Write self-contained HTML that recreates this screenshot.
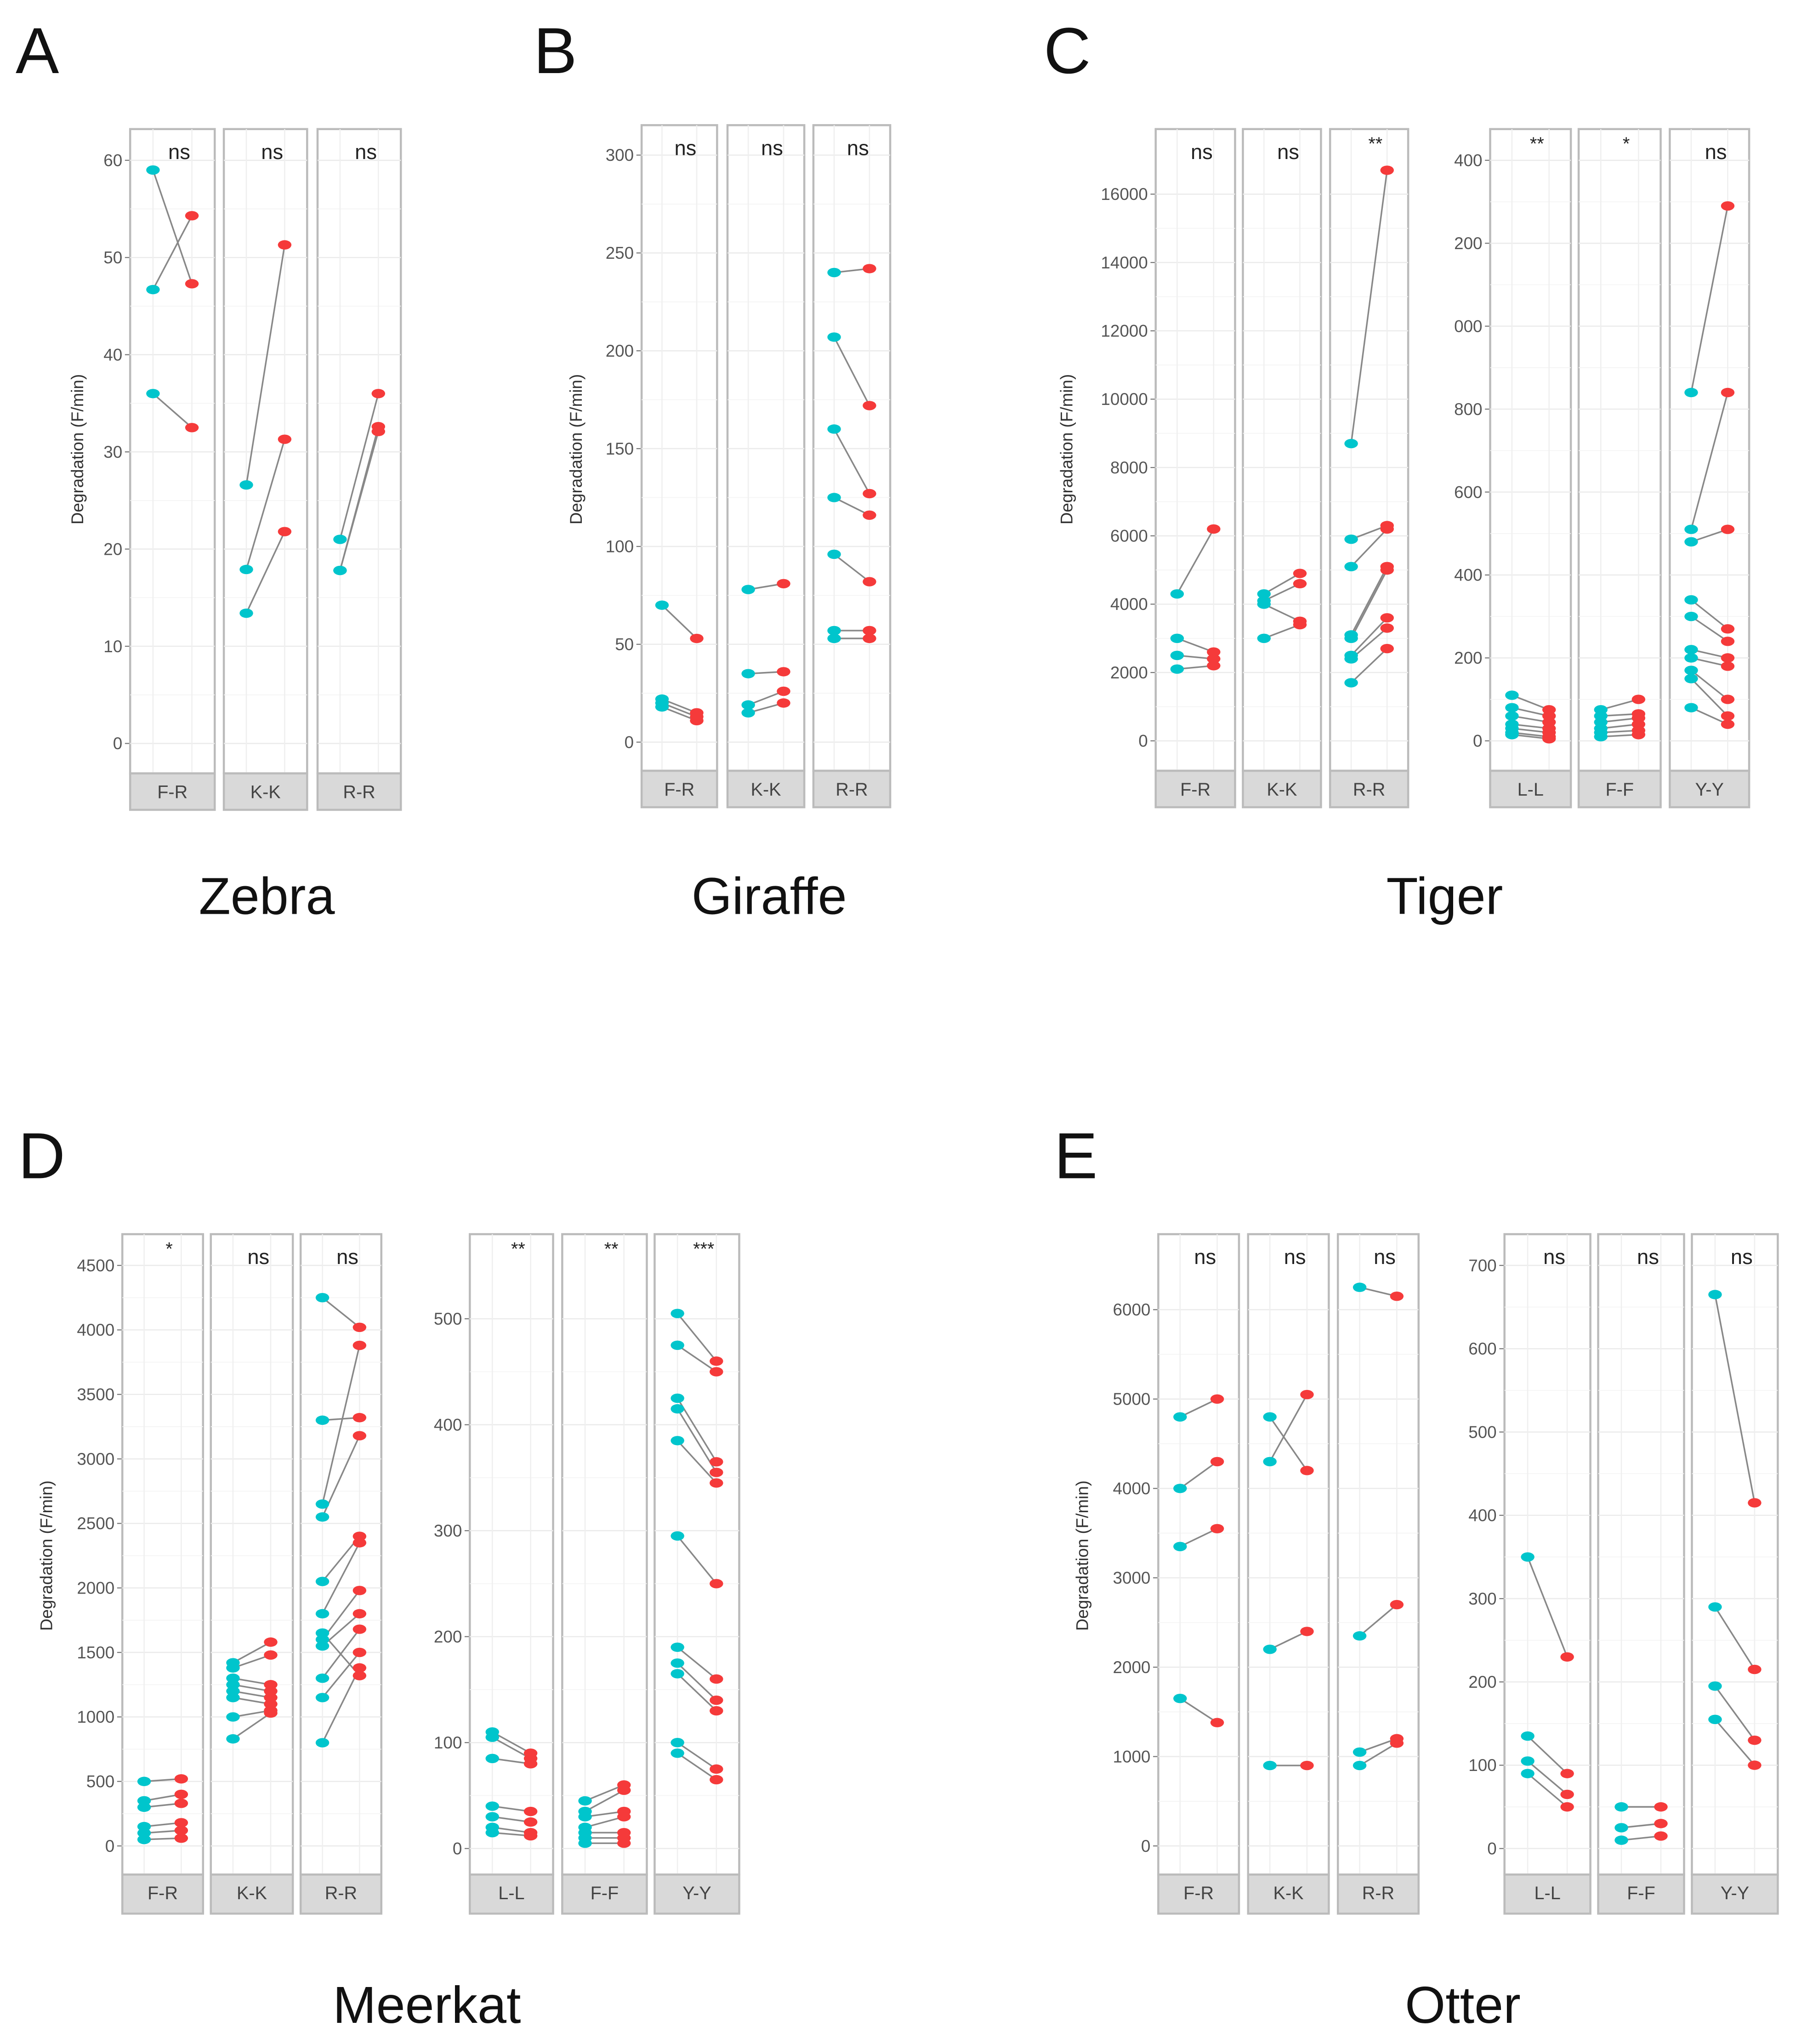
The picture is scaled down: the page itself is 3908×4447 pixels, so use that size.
<!DOCTYPE html>
<html><head><meta charset="utf-8"><style>
html,body{margin:0;padding:0;background:#fff}
svg{display:block}
text{font-family:"Liberation Sans",Arial,sans-serif}
</style></head><body>
<svg id="fig" width="3908" height="4447" viewBox="0 0 1380 1570" xmlns="http://www.w3.org/2000/svg">
<g id="root"></g>
</svg>
<script>
// ---------- DATA ----------
// Zebra
const zebraFacets = ["F-R","K-K","R-R"];
const zebraSig = ["ns","ns","ns"];
const zebraTicks = [0,10,20,30,40,50,60];
const zebraBefore = [[59,46.7,36],[26.6,17.9,13.4],[21,17.8,17.8]];
const zebraAfter  = [[47.3,54.3,32.5],[51.3,31.3,21.8],[36,32.6,32.1]];
// Giraffe
const giraffeFacets = ["F-R","K-K","R-R"];
const giraffeSig = ["ns","ns","ns"];
const giraffeTicks = [0,50,100,150,200,250,300];
const giraffeBefore = [[70,22,20,18],[78,35,19,15],[240,207,160,125,96,57,53]];
const giraffeAfter  = [[53,15,13,11],[81,36,26,20],[242,172,127,116,82,57,53]];
// Tiger left
const tigerLFacets = ["F-R","K-K","R-R"];
const tigerLSig = ["ns","ns","**"];
const tigerLTicks = [0,2000,4000,6000,8000,10000,12000,14000,16000];
const tigerLBefore = [[4300,3000,2500,2100],[4300,4100,4000,3000],[8700,5900,5100,3100,3000,2500,1700,2400]];
const tigerLAfter  = [[6200,2600,2400,2200],[4900,4600,3500,3400],[16700,6300,6200,5100,5000,3600,2700,3300]];
// Tiger right
const tigerRFacets = ["L-L","F-F","Y-Y"];
const tigerRSig = ["**","*","ns"];
const tigerRTicks = [0,200,400,600,800,1000,1200,1400];
const tigerRTickLabels = ["0","200","400","600","800","000","200","400"];
const tigerRBefore = [[110,80,60,40,30,20,15],[75,60,45,30,20,10],[840,510,480,340,300,220,200,170,150,80]];
const tigerRAfter  = [[75,60,45,30,20,10,5],[100,65,55,40,25,15],[1290,840,510,270,240,200,180,100,60,40]];
// Meerkat left
const meerLFacets = ["F-R","K-K","R-R"];
const meerLSig = ["*","ns","ns"];
const meerLTicks = [0,500,1000,1500,2000,2500,3000,3500,4000,4500];
const meerLBefore = [[500,350,300,150,100,50],[1420,1380,1300,1250,1200,1150,1000,830],[4250,3300,2650,2550,2050,1800,1600,1550,1300,1150,800,1650]];
const meerLAfter  = [[520,400,330,180,120,60],[1580,1480,1250,1200,1150,1100,1050,1030],[4020,3320,3880,3180,2400,2350,1980,1800,1680,1500,1380,1320]];
// Meerkat right
const meerRFacets = ["L-L","F-F","Y-Y"];
const meerRSig = ["**","**","***"];
const meerRTicks = [0,100,200,300,400,500];
const meerRBefore = [[110,105,85,40,30,20,15],[45,35,30,20,15,10,5],[505,475,425,415,385,295,190,175,165,100,90]];
const meerRAfter  = [[90,85,80,35,25,15,12],[60,55,35,30,15,10,5],[460,450,365,355,345,250,160,140,130,75,65]];
// Otter left
const otterLFacets = ["F-R","K-K","R-R"];
const otterLSig = ["ns","ns","ns"];
const otterLTicks = [0,1000,2000,3000,4000,5000,6000];
const otterLBefore = [[4800,4000,3350,1650],[4800,4300,2200,900],[6250,2350,1050,900]];
const otterLAfter  = [[5000,4300,3550,1380],[4200,5050,2400,900],[6150,2700,1200,1150]];
// Otter right
const otterRFacets = ["L-L","F-F","Y-Y"];
const otterRSig = ["ns","ns","ns"];
const otterRTicks = [0,100,200,300,400,500,600,700];
const otterRBefore = [[350,135,105,90],[50,25,10],[665,290,195,155]];
const otterRAfter  = [[230,90,65,50],[50,30,15],[415,215,130,100]];

// ---------- DRAWING ----------
const NS="http://www.w3.org/2000/svg";
const root=document.getElementById('root');
function mk(tag,attrs,parent){const e=document.createElementNS(NS,tag);for(const k in attrs)e.setAttribute(k,attrs[k]);(parent||root).appendChild(e);return e;}
const CY="#00c5cc", RD="#f53a3a";

function group(cfg){
  const g=mk('g',{});
  
  
  const v0=cfg.ticks[0], v1=cfg.ticks[cfg.ticks.length-1];
  const yS=v=>cfg.y0+(v-v0)/(v1-v0)*(cfg.y1-cfg.y0);
  cfg.ticks.forEach((t,i)=>{
    const tx=mk('text',{x:cfg.axisX-6,y:yS(t)+4.5,'text-anchor':'end','font-size':13,fill:'#555'},g);
    tx.textContent=cfg.labels?cfg.labels[i]:String(t);
    
    
    mk('line',{x1:cfg.axisX-4,x2:cfg.axisX,y1:yS(t),y2:yS(t),stroke:'#777','stroke-width':0.8},g);
  });
  cfg.facets.forEach((f,i)=>{
    const [L,R]=cfg.fx[i], w=R-L;
    const fg=mk('g',{},g);
    
    
    mk('rect',{x:L,y:cfg.top,width:w,height:cfg.stripTop-cfg.top,fill:'#fff',stroke:'#bbb','stroke-width':1.6},fg);
    const cx=L+0.27*w, rx=L+0.73*w;
    cfg.ticks.forEach((t,k)=>{
      mk('line',{x1:L,x2:R,y1:yS(t),y2:yS(t),stroke:'#ebebeb','stroke-width':0.9},fg);
      if(k<cfg.ticks.length-1){const m=(yS(t)+yS(cfg.ticks[k+1]))/2;mk('line',{x1:L,x2:R,y1:m,y2:m,stroke:'#f4f4f4','stroke-width':0.6},fg);}
    });
    [cx,rx].forEach(x=>mk('line',{x1:x,x2:x,y1:cfg.top,y2:cfg.stripTop,stroke:'#efefef','stroke-width':0.9},fg));
    const sr=mk('rect',{x:L,y:cfg.stripTop,width:w,height:cfg.stripBot-cfg.stripTop,fill:'#d9d9d9',stroke:'#bbb','stroke-width':1.6},fg);
    
    
    const st=mk('text',{x:(L+R)/2,y:cfg.stripTop+19,'text-anchor':'middle','font-size':14,fill:'#444'},fg);
    st.textContent=f;
    
    
    const sg=mk('text',{x:L+w*0.58,y:cfg.top+(cfg.sig[i]==='ns'?23:16),'text-anchor':'middle','font-size':cfg.sig[i]==='ns'?16:14,fill:'#222'},fg);
    sg.textContent=cfg.sig[i];
    
    
    const b=cfg.before[i], a=cfg.after[i];
    for(let k=0;k<b.length;k++){
      const ln=mk('line',{x1:cx,y1:yS(b[k]),x2:rx,y2:yS(a[k]),stroke:'#888','stroke-width':1.2},fg);
      
      
    }
    for(let k=0;k<b.length;k++){
      const p1=mk('ellipse',{cx:cx,cy:yS(b[k]),rx:5.2,ry:3.6,fill:CY},fg);
      
      
      const p2=mk('ellipse',{cx:rx,cy:yS(a[k]),rx:5.2,ry:3.6,fill:RD},fg);
      
      
    }
  });
  if(cfg.ytitle){
    const yt=mk('text',{x:0,y:0,'text-anchor':'middle','font-size':13,fill:'#333',transform:`translate(${cfg.ytitle[0]},${cfg.ytitle[1]}) rotate(-90)`},g);
    yt.textContent='Degradation (F/min)';
    
    
  }
}

group({name:'zebra-chart',facets:zebraFacets,sig:zebraSig,ticks:zebraTicks,before:zebraBefore,after:zebraAfter,
  fx:[[100,165],[172,236],[244,308]],top:99,stripTop:594,stripBot:622,y0:571,y1:123,axisX:100,ytitle:[64,345]});
group({name:'giraffe-chart',facets:giraffeFacets,sig:giraffeSig,ticks:giraffeTicks,before:giraffeBefore,after:giraffeAfter,
  fx:[[493,551],[559,618],[625,684]],top:96,stripTop:592,stripBot:620,y0:570,y1:119,axisX:493,ytitle:[447,345]});
group({name:'tiger-chart-left',facets:tigerLFacets,sig:tigerLSig,ticks:tigerLTicks,before:tigerLBefore,after:tigerLAfter,
  fx:[[888,949],[955,1015],[1022,1082]],top:99,stripTop:592,stripBot:620,y0:569,y1:149,axisX:888,ytitle:[824,345]});
group({name:'tiger-chart-right',facets:tigerRFacets,sig:tigerRSig,ticks:tigerRTicks,labels:tigerRTickLabels,before:tigerRBefore,after:tigerRAfter,
  fx:[[1145,1207],[1213,1276],[1283,1344]],top:99,stripTop:592,stripBot:620,y0:569,y1:123,axisX:1145});
group({name:'meerkat-chart-left',facets:meerLFacets,sig:meerLSig,ticks:meerLTicks,before:meerLBefore,after:meerLAfter,
  fx:[[94,156],[162,225],[231,293]],top:948,stripTop:1440,stripBot:1470,y0:1418,y1:972,axisX:94,ytitle:[40,1195]});
group({name:'meerkat-chart-right',facets:meerRFacets,sig:meerRSig,ticks:meerRTicks,before:meerRBefore,after:meerRAfter,
  fx:[[361,425],[432,497],[503,568]],top:948,stripTop:1440,stripBot:1470,y0:1420,y1:1013,axisX:361});
group({name:'otter-chart-left',facets:otterLFacets,sig:otterLSig,ticks:otterLTicks,before:otterLBefore,after:otterLAfter,
  fx:[[890,952],[959,1021],[1028,1090]],top:948,stripTop:1440,stripBot:1470,y0:1418,y1:1006,axisX:890,ytitle:[836,1195]});
group({name:'otter-chart-right',facets:otterRFacets,sig:otterRSig,ticks:otterRTicks,before:otterRBefore,after:otterRAfter,
  fx:[[1156,1222],[1228,1294],[1300,1366]],top:948,stripTop:1440,stripBot:1470,y0:1420,y1:972,axisX:1156});

[['A',12,56],['B',410,56],['C',802,56],['D',14,905],['E',810,905]].forEach(d=>{
  const t=mk('text',{x:d[1],y:d[2],'font-size':50,fill:'#111'});t.textContent=d[0];
  
  
});
[['Zebra',205,702],['Giraffe',591,702],['Tiger',1110,702],['Meerkat',328,1554],['Otter',1124,1554]].forEach(d=>{
  const t=mk('text',{x:d[1],y:d[2],'text-anchor':'middle','font-size':40,fill:'#111'});t.textContent=d[0];
  
  
});
</script>
</body></html>
